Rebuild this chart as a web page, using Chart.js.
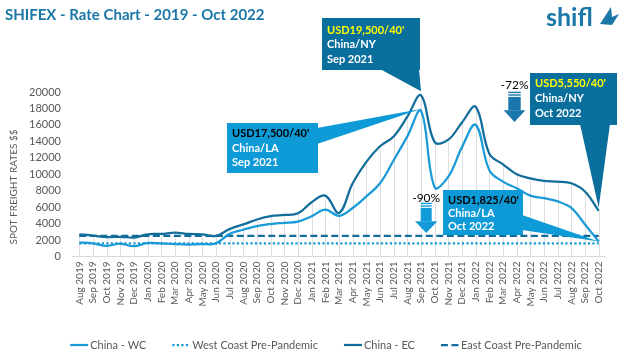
<!DOCTYPE html>
<html><head><meta charset="utf-8">
<script src="https://cdn.jsdelivr.net/npm/chart.js@4.4.1/dist/chart.umd.min.js"></script>
<style>html,body{margin:0;padding:0;background:#fff}</style>
</head><body>
<canvas id="c" width="624" height="356"></canvas>
<script>
const months = ['Aug 2019','Sep 2019','Oct 2019','Nov 2019','Dec 2019','Jan 2020','Feb 2020','Mar 2020','Apr 2020','May 2020','Jun 2020','Jul 2020','Aug 2020','Sep 2020','Oct 2020','Nov 2020','Dec 2020','Jan 2021','Feb 2021','Mar 2021','Apr 2021','May 2021','Jun 2021','Jul 2021','Aug 2021','Sep 2021','Oct 2021','Nov 2021','Dec 2021','Jan 2022','Feb 2022','Mar 2022','Apr 2022','May 2022','Jun 2022','Jul 2022','Aug 2022','Sep 2022','Oct 2022'];
const chinaWC = [1700,1600,1300,1550,1250,1650,1600,1500,1450,1500,1600,2750,3250,3700,3950,4100,4250,4900,5700,4950,5900,7300,8900,11700,14600,17700,8400,9700,13300,16000,10500,9100,8300,7400,7100,6700,5900,3900,1825];
const chinaEC = [2700,2550,2350,2400,2300,2700,2750,2900,2750,2700,2500,3350,3900,4500,4900,5050,5250,6600,7400,5300,8900,11500,13400,14600,17000,19600,13900,14200,16300,18200,12500,11200,10000,9500,9200,9100,8900,7900,5550];
const preCats = ['Aug 2019','Oct 2022'];
const westCoastPre = [1600,1600];
const eastCoastPre = [2500,2500];
const yTicks = [0,2000,4000,6000,8000,10000,12000,14000,16000,18000,20000];

const C_WC = '#1a9ad6', C_EC = '#126d9b';
const DARK_BOX = '#0b6f9d', LIGHT_BOX = '#0e9ad7';
const FONT = 'Lato, "Open Sans", sans-serif';

const callouts = [
  {ser:'EC', idx:25, dy:-4, bg:DARK_BOX, first:'#ffff00', x:322, y:18, w:98, h:52, b1:[380,69], b2:[419,69], lines:["USD19,500/40'",'China/NY','Sep 2021'], ty:[12,26.5,41.5]},
  {ser:'WC', idx:25, dy:-2, bg:LIGHT_BOX, first:'#000000', x:227, y:123, w:91, h:50, b1:[317,128], b2:[317,144], lines:["USD17,500/40'",'China/LA','Sep 2021'], ty:[10.5,25,39.5]},
  {ser:'EC', idx:38, dy:-3, bg:DARK_BOX, first:'#ffff00', x:530, y:73, w:87, h:52, b1:[580,124], b2:[610,124], lines:["USD5,550/40'",'China/NY','Oct 2022'], ty:[10.5,25,40]},
  {ser:'WC', idx:38, dy:0, bg:LIGHT_BOX, first:'#000000', x:443, y:190, w:80, h:45, b1:[522,215], b2:[522,230], lines:["USD1,825/40'",'China/LA','Oct 2022'], ty:[10,23.5,36.5]}
];
const arrows = [
  {label:'-72%', cx:514.5, top:91.7, sw:12.4, hw:21.7, color:'#1b76ad', ty:85},
  {label:'-90%', cx:426.2, top:202.7, sw:11, hw:22.3, color:'#129bd8', ty:198.3}
];

function downArrow(ctx, a) {
  ctx.fillStyle = '#000';
  ctx.font = '12px ' + FONT;
  ctx.textAlign = 'center'; ctx.textBaseline = 'middle';
  ctx.fillText(a.label, a.cx, a.ty);
  ctx.fillStyle = a.color;
  const l = a.cx - a.sw/2;
  ctx.fillRect(l, a.top, a.sw, 1.4);
  ctx.fillRect(l, a.top + 2.6, a.sw, 1.4);
  ctx.fillRect(l, a.top + 5.2, a.sw, 13.5);
  ctx.beginPath();
  ctx.moveTo(a.cx - a.hw/2, a.top + 18.5);
  ctx.lineTo(a.cx + a.hw/2, a.top + 18.5);
  ctx.lineTo(a.cx, a.top + 30.3);
  ctx.closePath(); ctx.fill();
}

const deco = {
  id: 'deco',
  beforeDatasetsDraw(chart) {
    const {ctx, scales:{x, y}} = chart;
    ctx.save();
    ctx.strokeStyle = '#dedede'; ctx.lineWidth = 1;
    const base = y.getPixelForValue(0);
    months.forEach((m, i) => {
      const px = Math.round(x.getPixelForValue(i)) + 0.5;
      const top = y.getPixelForValue(Math.max(chinaWC[i], chinaEC[i]));
      ctx.beginPath(); ctx.moveTo(px, top); ctx.lineTo(px, base); ctx.stroke();
    });
    ctx.restore();
  },
  afterDraw(chart) {
    const {ctx, scales:{x, y}} = chart;
    ctx.save();
    // title
    ctx.fillStyle = '#1a77a8';
    ctx.font = 'bold 15px ' + FONT;
    ctx.textAlign = 'left'; ctx.textBaseline = 'middle';
    ctx.fillText('SHIFEX - Rate Chart - 2019 - Oct 2022', 5, 15);
    // logo
    ctx.font = 'bold 25px ' + FONT;
    ctx.textBaseline = 'alphabetic';
    ctx.fillText('shifl', 546, 26);
    ctx.beginPath();
    ctx.moveTo(600, 24); ctx.lineTo(611, 7); ctx.lineTo(612, 17); ctx.lineTo(619, 14); ctx.lineTo(612, 25); ctx.closePath();
    ctx.fill();
    // y title
    ctx.save();
    ctx.translate(14, 187);
    ctx.rotate(-Math.PI/2);
    ctx.fillStyle = '#595959';
    ctx.font = '10px ' + FONT;
    ctx.textAlign = 'center'; ctx.textBaseline = 'middle';
    ctx.fillText('SPOT FREIGHT RATES $$', 0, 0);
    ctx.restore();
    // callouts
    callouts.forEach(c => {
      const arr = c.ser === 'EC' ? chinaEC : chinaWC;
      const tx = x.getPixelForValue(c.idx), tyv = y.getPixelForValue(arr[c.idx]) + c.dy;
      ctx.fillStyle = c.bg;
      ctx.fillRect(c.x, c.y, c.w, c.h);
      ctx.beginPath();
      ctx.moveTo(c.b1[0], c.b1[1]); ctx.lineTo(tx, tyv); ctx.lineTo(c.b2[0], c.b2[1]);
      ctx.closePath(); ctx.fill();
      ctx.font = 'bold 11px ' + FONT;
      ctx.textAlign = 'left'; ctx.textBaseline = 'middle';
      c.lines.forEach((t, k) => {
        ctx.fillStyle = k === 0 ? c.first : '#ffffff';
        ctx.fillText(t, c.x + 5, c.y + c.ty[k]);
      });
    });
    arrows.forEach(a => downArrow(ctx, a));
    // legend
    const ds = chart.data.datasets;
    ctx.font = '11px ' + FONT;
    const sw = 18, gap1 = 2, gap2 = 26;
    const widths = ds.map(d => sw + gap1 + ctx.measureText(d.label).width);
    const total = widths.reduce((a, b) => a + b, 0) + gap2 * (ds.length - 1);
    let lx = 326 - total / 2;
    const ly = 345;
    ds.forEach((d, i) => {
      ctx.strokeStyle = d.borderColor;
      ctx.lineWidth = d.borderWidth;
      ctx.setLineDash(d.borderDash || []);
      ctx.beginPath(); ctx.moveTo(lx, ly); ctx.lineTo(lx + sw, ly); ctx.stroke();
      ctx.setLineDash([]);
      ctx.fillStyle = '#595959';
      ctx.textAlign = 'left'; ctx.textBaseline = 'middle';
      ctx.fillText(d.label, lx + sw + gap1, ly);
      lx += widths[i] + gap2;
    });
    ctx.restore();
  }
};

new Chart(document.getElementById('c'), {
  type: 'line',
  data: {
    labels: months,
    datasets: [
      {label:'China - WC', data: chinaWC, borderColor: C_WC, borderWidth: 2.25, tension: 0.38, pointRadius: 0, fill: false},
      {label:'West Coast Pre-Pandemic', data: preCats.map((c, i) => ({x: c, y: westCoastPre[i]})), borderColor: C_WC, borderWidth: 2.25, borderDash: [2.25, 2.25], pointRadius: 0, tension: 0, fill: false},
      {label:'China - EC', data: chinaEC, borderColor: C_EC, borderWidth: 2.25, tension: 0.38, pointRadius: 0, fill: false},
      {label:'East Coast Pre-Pandemic', data: preCats.map((c, i) => ({x: c, y: eastCoastPre[i]})), borderColor: C_EC, borderWidth: 2.25, borderDash: [7, 3.5], pointRadius: 0, tension: 0, fill: false}
    ]
  },
  options: {
    responsive: false,
    animation: false,
    devicePixelRatio: 1,
    layout: {padding: {top: 92, right: 18.5, left: 0, bottom: 0}},
    plugins: {legend: {display: false}, tooltip: {enabled: false}, title: {display: false}},
    scales: {
      x: {
        type: 'category',
        offset: true,
        grid: {display: false, drawTicks: false},
        border: {display: true, color: '#d9d9d9', width: 1},
        ticks: {autoSkip: false, minRotation: 90, maxRotation: 90, padding: 5, color: '#595959', font: {family: FONT, size: 10}},
        afterFit: s => { s.height = 99.5; }
      },
      y: {
        min: 0, max: 20000,
        grid: {display: false, drawTicks: false},
        border: {display: false},
        afterBuildTicks: s => { s.ticks = yTicks.map(v => ({value: v})); },
        ticks: {padding: 11.5, color: '#595959', font: {family: FONT, size: 11}, callback: v => String(v)},
        afterFit: s => { s.width = 72.5; }
      }
    }
  },
  plugins: [deco]
});
</script>
</body></html>
